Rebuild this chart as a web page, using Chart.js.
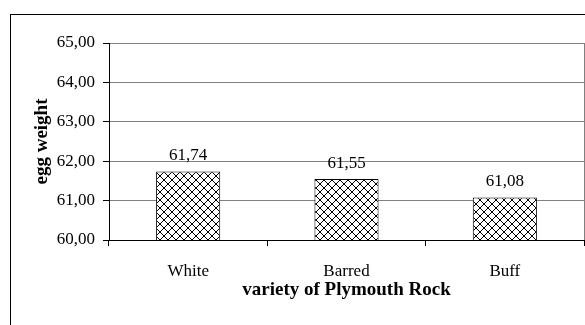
<!DOCTYPE html>
<html>
<head>
<meta charset="utf-8">
<script src="https://cdn.jsdelivr.net/npm/chart.js@4/dist/chart.umd.min.js"></script>
<style>
  html, body { margin: 0; padding: 0; background: #fff; }
  #wrap { width: 585px; height: 325px; position: relative; }
</style>
</head>
<body>
<div id="wrap"><canvas id="c" width="585" height="325"></canvas></div>
<script>
const categories = ['White', 'Barred', 'Buff'];
const eggWeight = [61.74, 61.55, 61.08];
const valueLabels = ['61,74', '61,55', '61,08'];
const yTickLabels = ['60,00', '61,00', '62,00', '63,00', '64,00', '65,00'];
const yTitle = 'egg weight';
const xTitle = 'variety of Plymouth Rock';

const FONT = 'Liberation Serif';

function makeHatch() {
  const s = 8;
  const p = document.createElement('canvas');
  p.width = s; p.height = s;
  const g = p.getContext('2d');
  g.fillStyle = '#fff';
  g.fillRect(0, 0, s, s);
  g.strokeStyle = '#000';
  g.lineWidth = 1;
  g.beginPath();
  g.moveTo(0, 0); g.lineTo(s, s);
  g.moveTo(s, 0); g.lineTo(0, s);
  g.stroke();
  return g.createPattern(p, 'repeat');
}

const framePlugin = {
  id: 'frame',
  beforeDraw(chart) {
    const ctx = chart.ctx;
    ctx.save();
    ctx.fillStyle = '#fff';
    ctx.fillRect(0, 0, chart.width, chart.height);
    ctx.strokeStyle = '#000';
    ctx.lineWidth = 1;
    ctx.strokeRect(10.5, 14.5, 700, 400);
    ctx.restore();
  }
};

const valuePlugin = {
  id: 'values',
  afterDatasetsDraw(chart) {
    const ctx = chart.ctx;
    const meta = chart.getDatasetMeta(0);
    ctx.save();
    ctx.font = '17px "' + FONT + '"';
    ctx.fillStyle = '#000';
    ctx.textAlign = 'center';
    ctx.textBaseline = 'alphabetic';
    meta.data.forEach((bar, i) => {
      ctx.fillText(valueLabels[i], bar.x, bar.y - 11);
    });
    ctx.restore();
  }
};

new Chart(document.getElementById('c'), {
  type: 'bar',
  data: {
    labels: categories,
    datasets: [{
      data: eggWeight,
      backgroundColor: makeHatch(),
      borderColor: '#000',
      borderWidth: 1,
      borderSkipped: false,
      barPercentage: 0.405,
      categoryPercentage: 1
    }]
  },
  options: {
    responsive: false,
    animation: false,
    devicePixelRatio: 1,
    layout: { padding: { top: 43, right: 1, left: 0, bottom: 0 } },
    plugins: { legend: { display: false }, tooltip: { enabled: false } },
    scales: {
      x: {
        type: 'category',
        offset: true,
        grid: {
          offset: true,
          drawOnChartArea: true,
          color: (ctx) => (ctx.type === 'scale' ? '#808080' : 'rgba(0,0,0,0)'),
          tickColor: '#000',
          tickLength: 6
        },
        border: { color: '#000', width: 1 },
        ticks: { color: '#000', font: { family: FONT, size: 17 }, padding: 15, maxRotation: 0 },
        title: {
          display: true, text: xTitle, color: '#000',
          font: { family: FONT, size: 19, weight: 'bold' },
          padding: { top: 0, bottom: 24 }
        },
        afterFit(scale) { scale.height = 85; }
      },
      y: {
        min: 60, max: 65,
        ticks: {
          stepSize: 1, color: '#000', padding: 8,
          font: { family: FONT, size: 17 },
          callback: (v) => yTickLabels[Math.round(v - 60)]
        },
        grid: { color: '#808080', tickColor: '#000', tickLength: 6 },
        border: { color: '#000', width: 1 },
        title: {
          display: true, text: yTitle, color: '#000',
          font: { family: FONT, size: 19, weight: 'bold' },
          padding: { top: 31, bottom: 0 }
        },
        afterFit(scale) { scale.width = 109; }
      }
    }
  },
  plugins: [framePlugin, valuePlugin]
});
</script>
</body>
</html>
